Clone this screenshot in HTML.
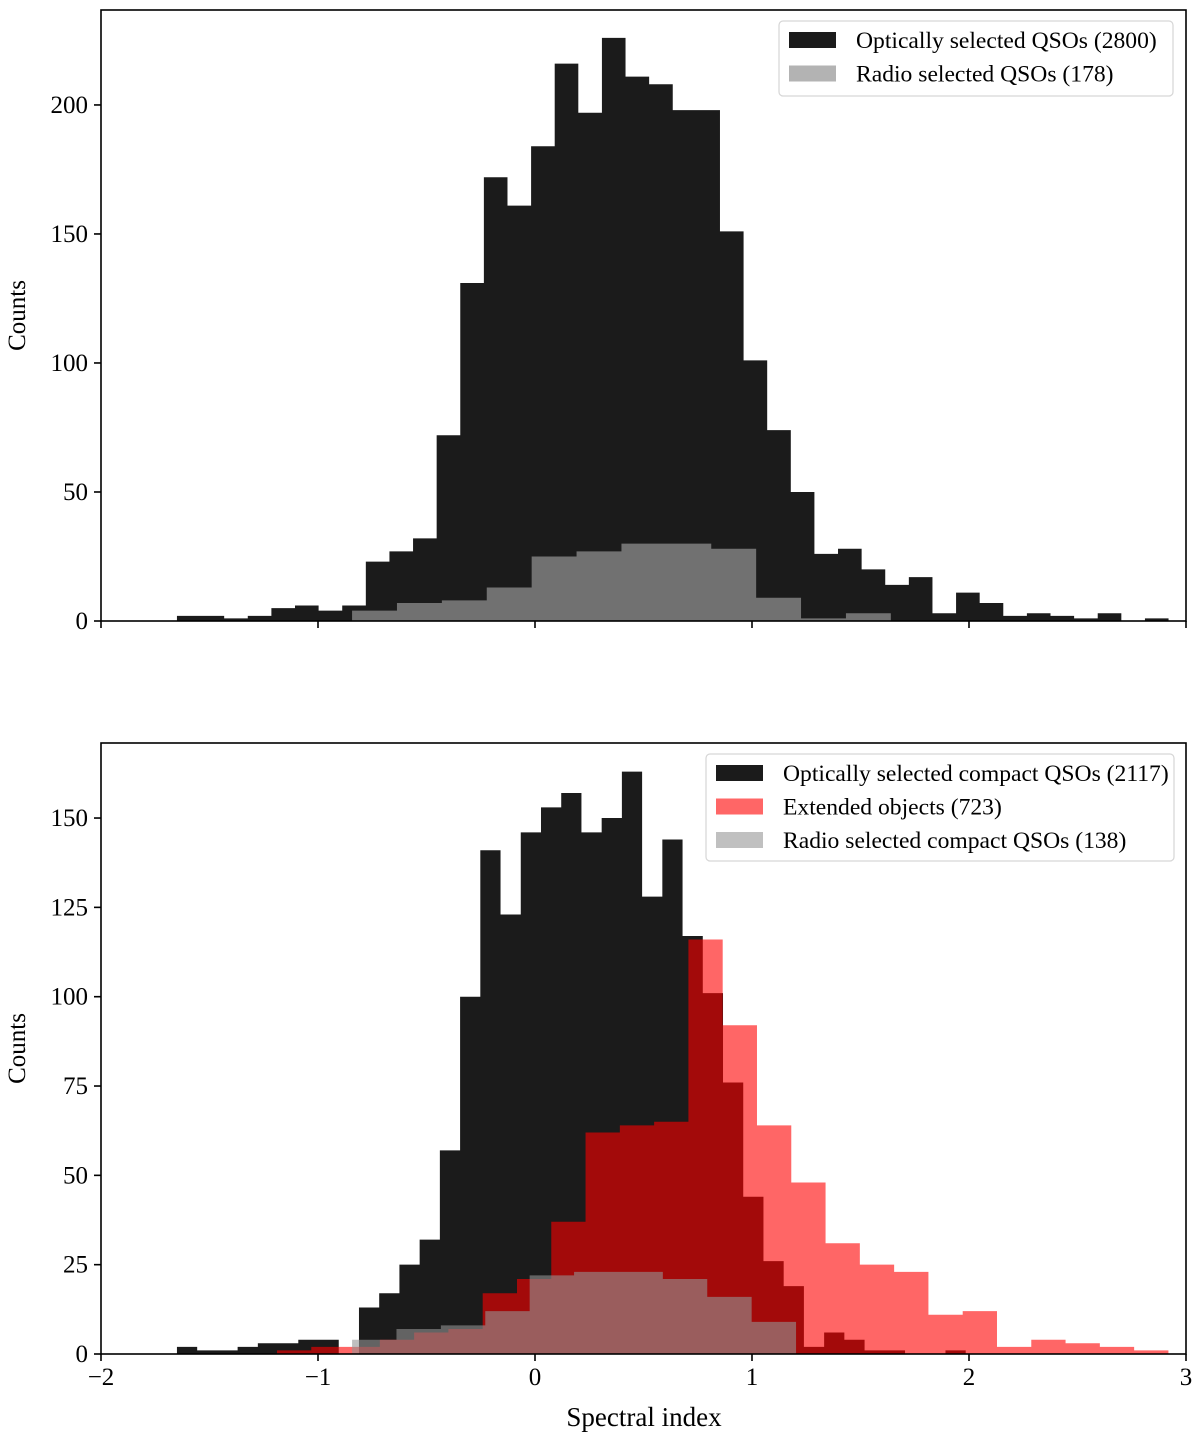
<!DOCTYPE html>
<html><head><meta charset="utf-8"><style>
html,body{margin:0;padding:0;background:#fff;}
svg{display:block;font-family:"Liberation Serif",serif;}
</style></head><body>
<svg id="chart" width="1200" height="1442" viewBox="0 0 1200 1442"></svg>
<script>
// ---- data ----
const xTicks = [-2, -1, 0, 1, 2, 3];
const xTickLabels = ["\u22122", "\u22121", "0", "1", "2", "3"];
const topYTicks = [0, 50, 100, 150, 200];
const botYTicks = [0, 25, 50, 75, 100, 125, 150];

// top panel: optically selected (bin start, bin width in spectral-index units)
const topOptStart = -1.65, topOptWidth = 0.1088;
const topOptCounts = [2,2,1,2,5,6,4,6,23,27,32,72,131,172,161,184,216,197,226,211,208,198,198,151,101,74,50,26,28,20,14,17,3,11,7,2,3,2,1,3,0,1];
const topRadStart = -0.843, topRadWidth = 0.2069;
const topRadCounts = [4,7,8,13,25,27,30,30,28,9,1,3];

// bottom panel
const botOptStart = -1.65, botOptWidth = 0.0932;
const botOptCounts = [2,1,1,2,3,3,4,4,0,13,17,25,32,57,100,141,123,146,153,157,146,150,163,128,144,117,101,76,44,26,19,2,6,4,1,1,0,0,1];
const botExtStart = -1.189, botExtWidth = 0.158;
const botExtCounts = [1,2,2,4,6,7,17,21,37,62,64,65,116,92,64,48,31,25,23,11,12,2,4,3,2,1];
const botRadStart = -0.843, botRadWidth = 0.2046;
const botRadCounts = [4,7,8,12,22,23,23,21,16,9];

// ---- layout ----
const NS = "http://www.w3.org/2000/svg";
const svg = document.getElementById("chart");
const X0 = 101, X1 = 1186;
const xScale = v => X0 + (v + 2) / 5 * (X1 - X0);
const topP = {top: 10, bottom: 621, ymax: 236.8};
const botP = {top: 743, bottom: 1354, ymax: 171.0};
const yScale = (p, v) => p.bottom - v / p.ymax * (p.bottom - p.top);

function mk(tag, attrs, parent) {
  const e = document.createElementNS(NS, tag);
  for (const k in attrs) e.setAttribute(k, attrs[k]);
  (parent || svg).appendChild(e);
  return e;
}
function hist(p, start, width, counts, fill, op, name) {
  const g = mk("g", {});
  
  
  let d = "";
  counts.forEach((c, i) => {
    if (c <= 0) return;
    const xa = xScale(start + i * width), xb = xScale(start + (i + 1) * width);
    const y = yScale(p, c);
    d += `M${xa},${p.bottom}V${y}H${xb}V${p.bottom}Z`;
  });
  const path = mk("path", {d: d, fill: fill, "fill-opacity": op}, g);
  
  
}
function axes(p, yTicks, showXLabels, prefix) {
  const f = mk("rect", {x: X0, y: p.top, width: X1 - X0, height: p.bottom - p.top, fill: "none", stroke: "#000", "stroke-width": 1.6});
  
  
  xTicks.forEach((t, i) => {
    const x = xScale(t);
    const tk = mk("line", {x1: x, x2: x, y1: p.bottom, y2: p.bottom + 7, stroke: "#000", "stroke-width": 1.6});
    
    
    if (showXLabels) {
      const tx = mk("text", {x: x, y: p.bottom + 31, "text-anchor": "middle", "font-size": 25});
      tx.textContent = xTickLabels[i];
      
      
    }
  });
  yTicks.forEach(t => {
    const y = yScale(p, t);
    const tk = mk("line", {x1: X0 - 7, x2: X0, y1: y, y2: y, stroke: "#000", "stroke-width": 1.6});
    
    
    const tx = mk("text", {x: X0 - 13, y: y + 8, "text-anchor": "end", "font-size": 25});
    tx.textContent = String(t);
    
    
  });
  const yl = mk("text", {x: 0, y: 0, "text-anchor": "middle", "font-size": 25, transform: `translate(25,${(p.top + p.bottom) / 2}) rotate(-90)`});
  yl.textContent = "Counts";
  
  
}
function legend(x, y, w, h, entries, prefix) {
  const g = mk("g", {});
  
  
  mk("rect", {x: x, y: y, width: w, height: h, rx: 4, fill: "#fff", "fill-opacity": 0.8, stroke: "#d6d6d6", "stroke-width": 1.2}, g);
  entries.forEach((e, i) => {
    const cy = y + 19 + i * 33.5;
    const sw = mk("rect", {x: x + 10, y: cy - 8, width: 47, height: 16, fill: e[1]}, g);
    
    
    const t = mk("text", {x: x + 77, y: cy + 8, "font-size": 23.6}, g);
    t.textContent = e[0];
    
    
  });
}

// top panel
hist(topP, topOptStart, topOptWidth, topOptCounts, "#000", 0.895, "top-optical-histogram");
hist(topP, topRadStart, topRadWidth, topRadCounts, "rgb(149,149,149)", 0.715, "top-radio-histogram");
axes(topP, topYTicks, false, "top");
legend(779, 21, 394, 75, [["Optically selected QSOs (2800)", "#1b1b1b"], ["Radio selected QSOs (178)", "#b3b3b3"]], "top");

// bottom panel
hist(botP, botOptStart, botOptWidth, botOptCounts, "#000", 0.895, "bottom-optical-histogram");
hist(botP, botExtStart, botExtWidth, botExtCounts, "rgb(255,0,0)", 0.6, "bottom-extended-histogram");
hist(botP, botRadStart, botRadWidth, botRadCounts, "rgb(149,149,149)", 0.6, "bottom-radio-histogram");
axes(botP, botYTicks, true, "bottom");
legend(706, 754, 468, 107, [["Optically selected compact QSOs (2117)", "#1b1b1b"], ["Extended objects (723)", "#ff6666"], ["Radio selected compact QSOs (138)", "#c0c0c0"]], "bottom");

const xl = mk("text", {x: 644, y: 1426, "text-anchor": "middle", "font-size": 27});
xl.textContent = "Spectral index";


</script>
</body></html>
